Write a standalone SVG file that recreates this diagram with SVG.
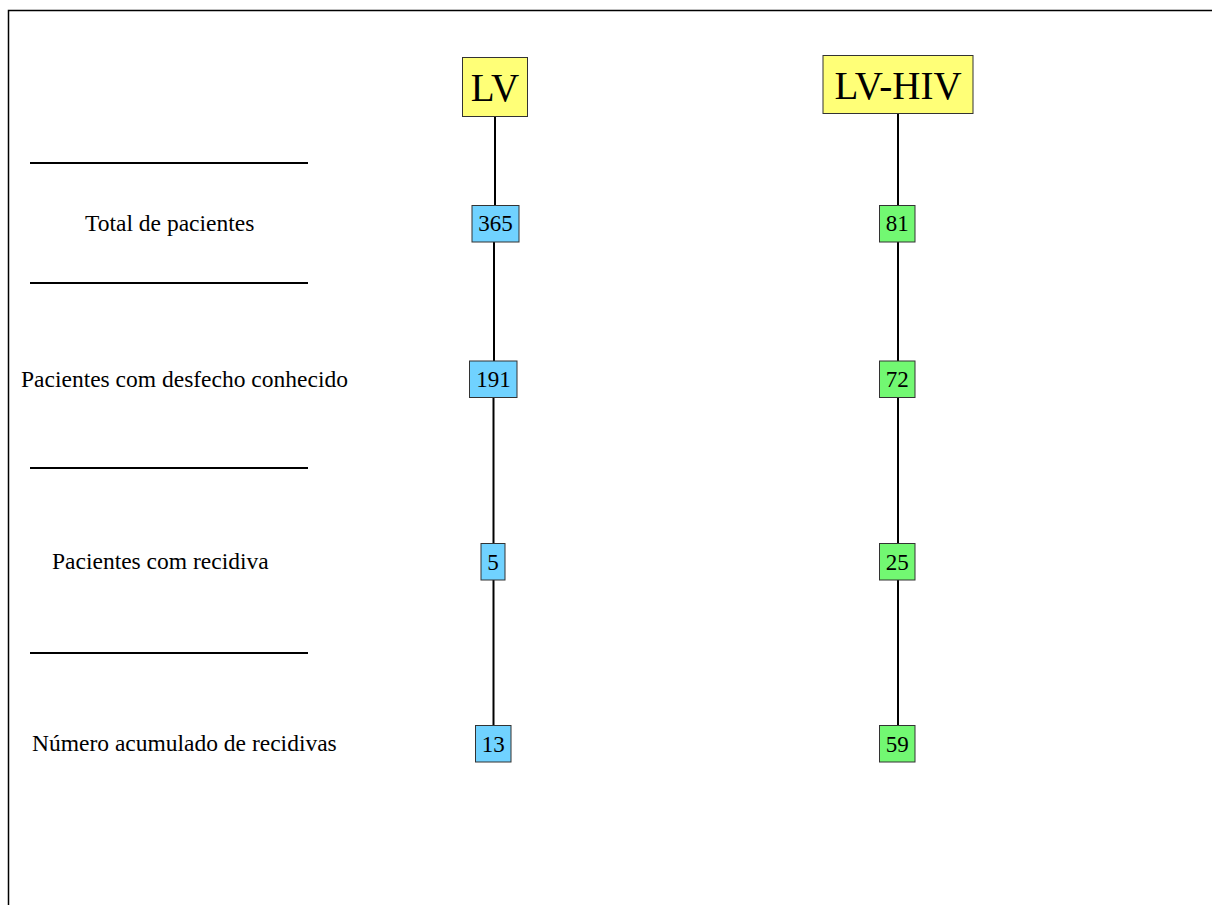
<svg xmlns="http://www.w3.org/2000/svg" width="1212" height="905" viewBox="0 0 1212 905">
<style>
  .bg{fill:#ffffff}
  .frame{fill:none;stroke:#000;stroke-width:1.5}
  .conn line{stroke:#000;stroke-width:2}
  .sep line{stroke:#000;stroke-width:2}
  .head rect{fill:#ffff77;stroke:#333;stroke-width:1}
  .lv rect{fill:#70d2ff;stroke:#333;stroke-width:1}
  .hiv rect{fill:#72f872;stroke:#333;stroke-width:1}
  text{font-family:"Liberation Serif","Times New Roman",serif;fill:#000}
  .num{font-size:23px;text-anchor:middle}
  .ht{font-size:39px;text-anchor:middle}
  .lbl{font-size:23.5px}
</style>
<rect class="bg" x="0" y="0" width="1212" height="905"/>
<path class="frame" d="M8.5,905 L8.5,10.5 L1212,10.5"/>
<g id="separators" class="sep">
  <line x1="30" y1="163" x2="308" y2="163"/>
  <line x1="30" y1="283" x2="308" y2="283"/>
  <line x1="30" y1="468" x2="308" y2="468"/>
  <line x1="30" y1="653" x2="308" y2="653"/>
</g>
<g id="labels" class="lbl">
  <text x="85" y="231">Total de pacientes</text>
  <text x="21" y="387">Pacientes com desfecho conhecido</text>
  <text x="52" y="569">Pacientes com recidiva</text>
  <text x="32" y="751">Número acumulado de recidivas</text>
</g>
<g id="connectors" class="conn">
  <line x1="495" y1="116" x2="495" y2="205"/>
  <line x1="494" y1="242" x2="494" y2="361"/>
  <line x1="493.5" y1="398" x2="493.5" y2="543"/>
  <line x1="493.5" y1="580" x2="493.5" y2="725"/>
  <line x1="898" y1="113" x2="898" y2="205"/>
  <line x1="898" y1="242" x2="898" y2="361"/>
  <line x1="898" y1="398" x2="898" y2="543"/>
  <line x1="898" y1="580" x2="898" y2="725"/>
</g>
<g id="head-lv" class="head">
  <rect x="462.5" y="57.5" width="65" height="59"/>
  <text class="ht" x="495" y="101">LV</text>
</g>
<g id="head-lvhiv" class="head">
  <rect x="823" y="55.5" width="150" height="58"/>
  <text class="ht" x="898" y="99">LV-HIV</text>
</g>
<g id="lv-total" class="lv">
  <rect x="472" y="205.5" width="47" height="36.5"/>
  <text class="num" x="495.5" y="231">365</text>
</g>
<g id="lv-desfecho" class="lv">
  <rect x="469.5" y="361" width="47.5" height="36.5"/>
  <text class="num" x="493.5" y="387">191</text>
</g>
<g id="lv-recidiva" class="lv">
  <rect x="481" y="543.5" width="24" height="36.5"/>
  <text class="num" x="493" y="569.5">5</text>
</g>
<g id="lv-acumulado" class="lv">
  <rect x="475.5" y="725.5" width="35.5" height="36.5"/>
  <text class="num" x="493.3" y="751.5">13</text>
</g>
<g id="hiv-total" class="hiv">
  <rect x="879.5" y="205.5" width="35.5" height="36.5"/>
  <text class="num" x="897.3" y="231">81</text>
</g>
<g id="hiv-desfecho" class="hiv">
  <rect x="879.5" y="361" width="35.5" height="36.5"/>
  <text class="num" x="897.3" y="387">72</text>
</g>
<g id="hiv-recidiva" class="hiv">
  <rect x="879.5" y="543.5" width="35.5" height="36.5"/>
  <text class="num" x="897.3" y="569.5">25</text>
</g>
<g id="hiv-acumulado" class="hiv">
  <rect x="879.5" y="725.5" width="35.5" height="36.5"/>
  <text class="num" x="897.3" y="751.5">59</text>
</g>
</svg>
